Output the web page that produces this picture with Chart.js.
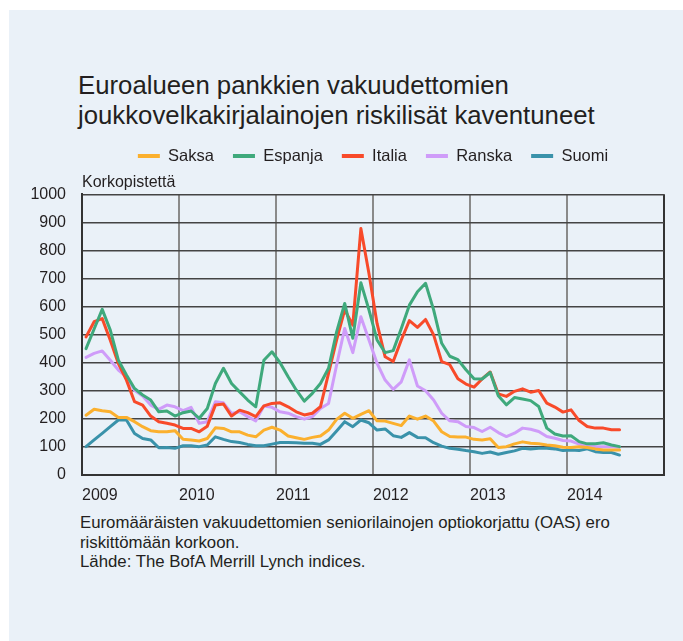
<!DOCTYPE html>
<html lang="fi">
<head>
<meta charset="utf-8">
<title>Euroalueen pankkien vakuudettomien joukkovelkakirjalainojen riskilisät kaventuneet</title>
<script src="https://cdn.jsdelivr.net/npm/chart.js@4/dist/chart.umd.min.js"></script>
<style>
  html, body { margin: 0; padding: 0; background: #ffffff; width: 683px; height: 641px; overflow: hidden; }
  body { position: relative; font-family: "Liberation Sans", Arial, Helvetica, sans-serif; color: #231f20; }
  #panel { position: absolute; left: 9px; top: 10px; right: 0; bottom: 0; background: #eaf1f8; }
  #title { position: absolute; left: 78px; top: 70px; margin: 0; font-weight: normal; font-size: 25.75px; line-height: 30px; color: #231f20; white-space: nowrap; }
  #notes { position: absolute; left: 80px; top: 513px; margin: 0; font-size: 16.8px; line-height: 19.5px; color: #231f20; white-space: nowrap; }
  #wrap { position: absolute; left: 0; top: 0; width: 683px; height: 641px; }
</style>
</head>
<body>
<div id="panel"></div>
<h1 id="title">Euroalueen pankkien vakuudettomien<br>joukkovelkakirjalainojen riskilisät kaventuneet</h1>
<p id="notes">Euromääräisten vakuudettomien seniorilainojen optiokorjattu (OAS) ero<br>riskittömään korkoon.<br>Lähde: The BofA Merrill Lynch indices.</p>
<div id="wrap"><canvas id="c" width="683" height="641"></canvas></div>
<script>
// ---- Data (monthly, Jan 2009 – Jul 2014), basis points ----
const seriesNames = ["Saksa", "Espanja", "Italia", "Ranska", "Suomi"];
const seriesColors = ["#fbb02e", "#3fa97c", "#f84a2a", "#cf9cf9", "#3a92aa"];
const yearTicks = [2009, 2010, 2011, 2012, 2013, 2014];
const yTickValues = [0, 100, 200, 300, 400, 500, 600, 700, 800, 900, 1000];
const unitLabel = "Korkopistettä";

const saksa = [
  213,234,229,225,205,205,190,172,158,154,154,158,
  127,125,121,130,168,166,154,154,142,136,160,170,
  160,139,133,127,134,139,160,198,220,202,216,229,
  193,192,184,176,210,199,210,192,154,137,135,135,
  127,125,129,98,101,111,118,113,111,107,104,99,
  98,101,98,93,89,89,89
];
const espanja = [
  450,520,590,516,409,356,308,285,267,225,228,210,
  222,228,202,237,326,380,326,296,267,243,409,439,
  400,350,303,263,291,326,380,510,611,487,685,588,
  481,436,443,522,605,653,683,588,469,423,411,375,
  343,342,365,282,250,276,271,265,244,167,146,139,
  140,119,111,111,115,107,101
];
const italia = [
  492,546,557,480,397,338,261,249,210,190,184,178,
  166,166,154,174,249,253,210,231,222,208,246,255,
  257,243,225,214,220,243,362,481,588,534,878,718,
  540,421,404,481,550,526,554,499,404,393,343,324,
  313,342,367,289,280,298,307,295,301,256,242,224,
  232,194,173,167,167,161,161
];
const ranska = [
  419,433,442,409,374,350,302,281,249,234,249,243,
  229,241,184,190,261,257,219,225,208,193,246,241,
  225,220,208,199,208,237,255,392,522,436,564,481,
  398,338,305,332,410,317,300,267,220,193,190,173,
  169,155,170,151,137,149,167,163,155,137,131,123,
  121,110,105,101,101,101,99
];
const suomi = [
  101,125,148,172,196,196,148,130,125,97,98,95,
  104,104,101,107,136,127,119,116,109,104,104,110,
  116,116,115,113,113,109,125,157,190,172,196,186,
  160,164,140,134,151,134,133,115,103,95,92,87,
  83,77,82,74,80,86,95,93,95,95,93,87,
  89,87,93,83,80,80,71
];

// Month categories "YYYY-MM"
const monthLabels = [];
for (let i = 0; i < saksa.length; i++) {
  const y = 2009 + Math.floor(i / 12);
  const m = (i % 12) + 1;
  monthLabels.push(y + "-" + (m < 10 ? "0" + m : m));
}
// position of a month on the time axis (middle of the month, in years)
function monthPos(label) {
  const [y, m] = label.split("-").map(Number);
  return y + (m - 0.5) / 12;
}

const allSeries = [saksa, espanja, italia, ranska, suomi];
const FONT = "'Liberation Sans', Arial, Helvetica, sans-serif";
const TXT = "#231f20";

const datasets = allSeries.map((vals, k) => ({
  label: seriesNames[k],
  data: vals.map((v, i) => ({ x: monthPos(monthLabels[i]), y: v })),
  borderColor: seriesColors[k],
  backgroundColor: seriesColors[k],
  borderWidth: 3,
  pointRadius: 0,
  pointHoverRadius: 0,
  fill: false,
  tension: 0,
  borderJoinStyle: "round",
  borderCapStyle: "round"
}));

new Chart(document.getElementById("c"), {
  type: "line",
  data: { datasets },
  options: {
    responsive: false,
    devicePixelRatio: 1,
    animation: false,
    events: [],
    layout: { padding: { top: 128.75, left: 0, right: 19, bottom: 136 } },
    plugins: {
      tooltip: { enabled: false },
      legend: {
        display: true,
        position: "top",
        fullSize: false,
        labels: {
          font: { family: FONT, size: 16.5 },
          color: TXT,
          boxWidth: 22,
          boxHeight: 4,
          padding: 19,
          generateLabels: (chart) =>
            Chart.defaults.plugins.legend.labels.generateLabels(chart).map(it => {
              it.lineWidth = 0;
              it.fillStyle = it.strokeStyle;
              return it;
            })
        }
      },
      subtitle: {
        display: true,
        text: unitLabel,
        position: "top",
        align: "start",
        fullSize: false,
        weight: 500,
        color: TXT,
        font: { family: FONT, size: 16, weight: "normal", lineHeight: 1 },
        padding: { top: 0, bottom: 4 }
      },
      title: { display: false }
    },
    scales: {
      x: {
        type: "linear",
        min: 2009,
        max: 2015,
        afterFit: (s) => { s.height = 30; },
        afterBuildTicks: (s) => { s.ticks = yearTicks.concat([2015]).map(v => ({ value: v })); },
        ticks: {
          autoSkip: false,
          maxRotation: 0,
          align: "start",
          padding: 11,
          color: TXT,
          font: { family: FONT, size: 16 },
          callback: (v) => (yearTicks.includes(v) ? String(v) : "")
        },
        grid: {
          drawTicks: false,
          lineWidth: 2,
          color: (ctx) => (ctx.tick && (ctx.tick.value === 2015 || ctx.tick.value === 2009)) ? "#333333" : "#8a8a8a"
        },
        border: { display: true, color: "#333333", width: 2 }
      },
      y: {
        type: "linear",
        min: 0,
        max: 1000,
        afterFit: (s) => { s.width = 82; },
        afterBuildTicks: (s) => { s.ticks = yTickValues.map(v => ({ value: v })); },
        ticks: {
          padding: 16,
          color: TXT,
          font: { family: FONT, size: 16 },
          callback: (v) => String(v)
        },
        grid: {
          drawTicks: false,
          lineWidth: 1.5,
          color: "#444444"
        },
        border: { display: true, color: "#333333", width: 2 }
      }
    }
  }
});
</script>
</body>
</html>
